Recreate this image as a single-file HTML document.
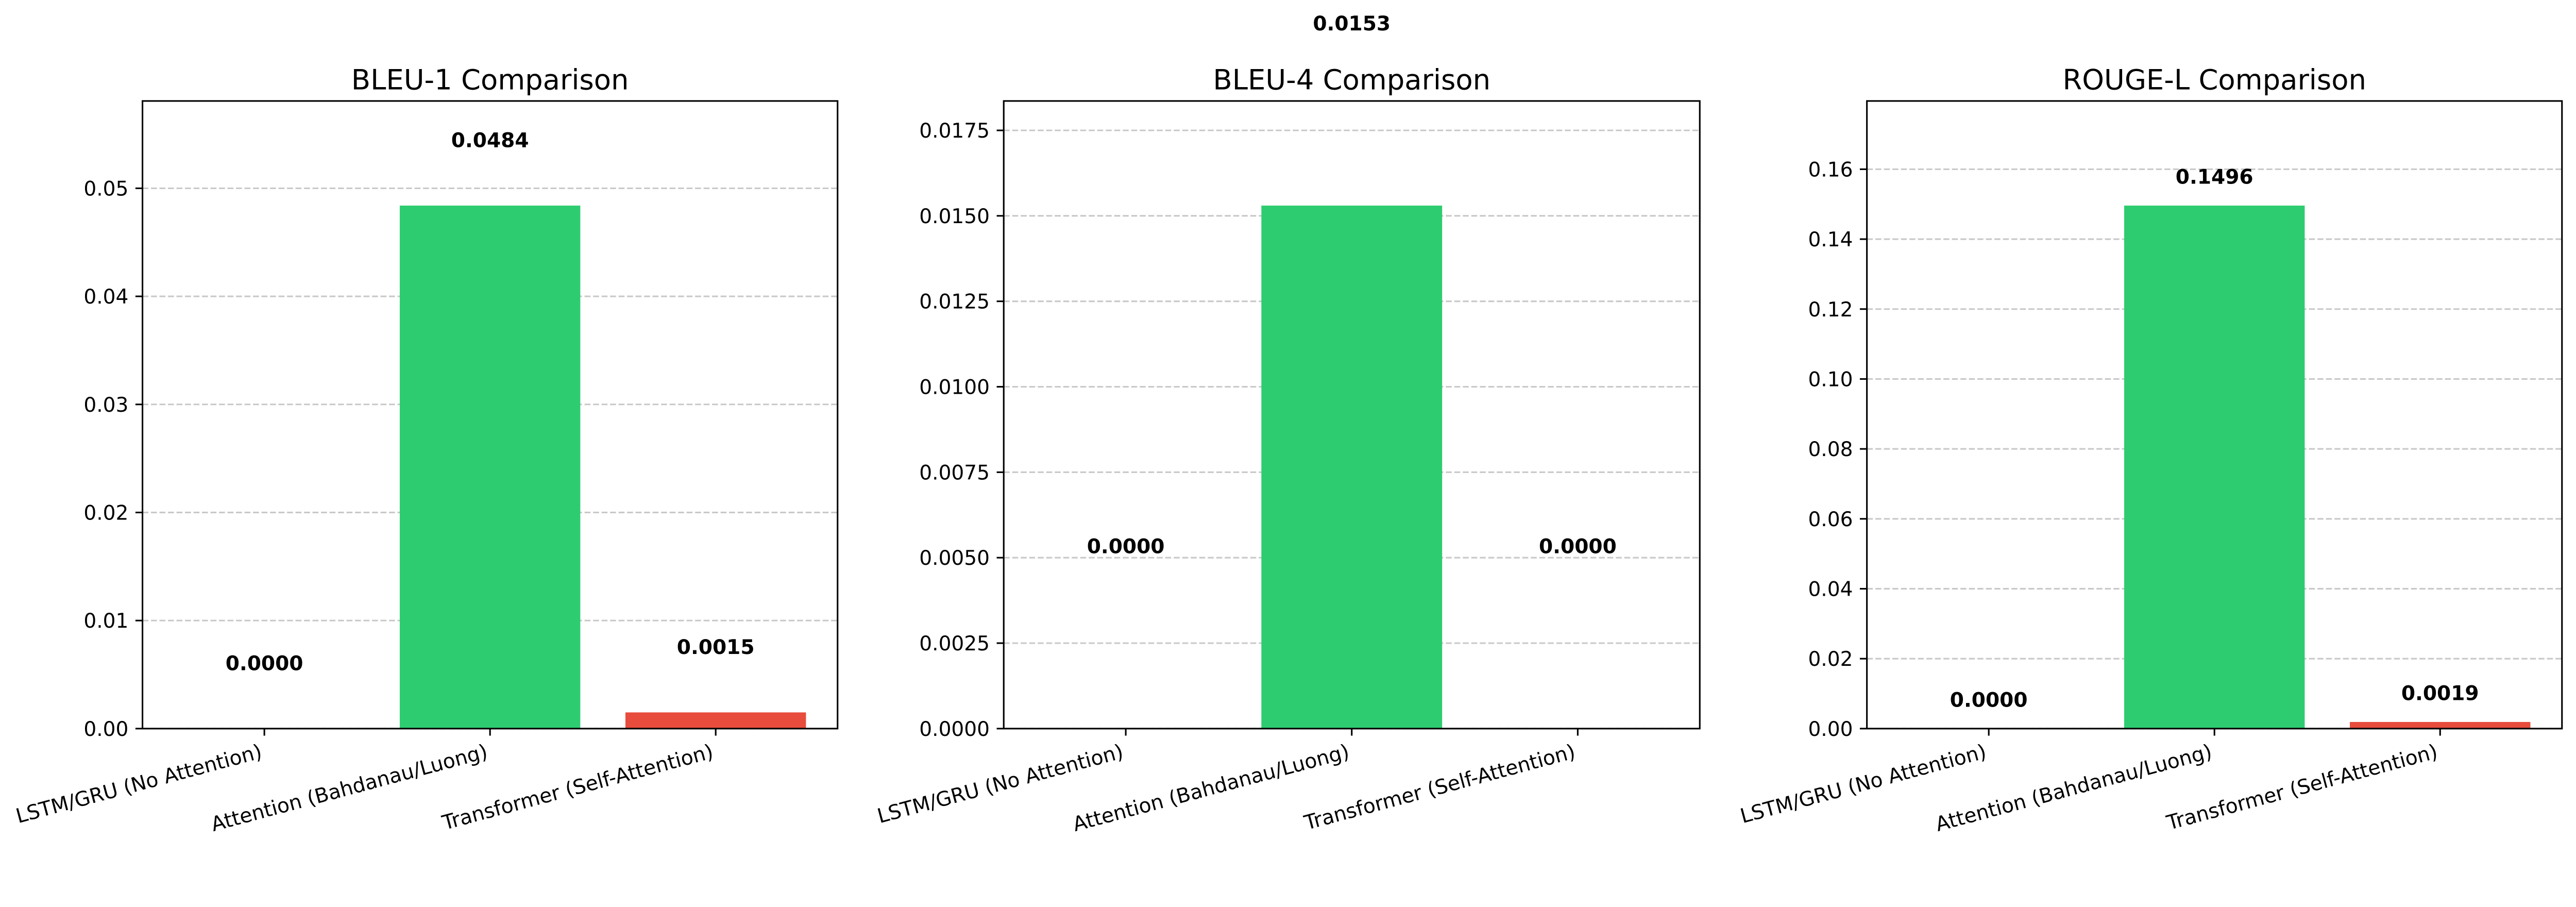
<!DOCTYPE html>
<html><head><meta charset="utf-8"><title>Model Comparison</title>
<style>html,body{margin:0;padding:0;background:#fff;overflow:hidden}svg{display:block;width:100vw;height:33.0021vw}text{font-family:"DejaVu Sans","Liberation Sans",sans-serif}</style>
</head><body>
<svg id="fig" viewBox="0 0 5333 1760" preserveAspectRatio="xMinYMin meet" xmlns="http://www.w3.org/2000/svg"></svg>
<script>
const categories = ["LSTM/GRU (No Attention)", "Attention (Bahdanau/Luong)", "Transformer (Self-Attention)"];
const bleu1Values = [0.0000, 0.0484, 0.0015];
const bleu4Values = [0.0000, 0.0153, 0.0000];
const rougeLValues = [0.0000, 0.1496, 0.0019];
const bleu1Ticks = [0, 0.01, 0.02, 0.03, 0.04, 0.05];
const bleu4Ticks = [0, 0.0025, 0.005, 0.0075, 0.01, 0.0125, 0.015, 0.0175];
const rougeLTicks = [0, 0.02, 0.04, 0.06, 0.08, 0.10, 0.12, 0.14, 0.16];
const titles = ["BLEU-1 Comparison", "BLEU-4 Comparison", "ROUGE-L Comparison"];

const NS = "http://www.w3.org/2000/svg";
const svg = document.getElementById("fig");
const colors = ["#3498db", "#2ecc71", "#e74c3c"];
function el(tag, attrs, parent) {
  const e = document.createElementNS(NS, tag);
  for (const k in attrs) e.setAttribute(k, attrs[k]);
  (parent || svg).appendChild(e);
  return e;
}
const panels = [
  {left: 295, right: 1734, values: bleu1Values, ticks: bleu1Ticks, dec: 2, slug: "bleu1"},
  {left: 2078, right: 3519, values: bleu4Values, ticks: bleu4Ticks, dec: 4, slug: "bleu4"},
  {left: 3865, right: 5304, values: rougeLValues, ticks: rougeLTicks, dec: 2, slug: "rougel"}
];
const TOP = 209, BOTTOM = 1508;
panels.forEach((p, pi) => {
  const g = el("g", {});
  
  
  const ymax = Math.max(...p.values) * 1.2;
  const yS = v => BOTTOM - v / ymax * (BOTTOM - TOP);
  const x0 = -0.54, x1 = 2.54;
  const xS = v => p.left + (v - x0) / (x1 - x0) * (p.right - p.left);
  const unit = (p.right - p.left) / (x1 - x0);
  p.ticks.forEach(t => {
    const y = yS(t);
    const gl = el("line", {x1: p.left, x2: p.right, y1: y, y2: y, stroke: "#b0b0b0", "stroke-opacity": 0.7, "stroke-width": 3.3, "stroke-dasharray": "12.3 5.3"}, g);
    
    
    const tk = el("line", {x1: p.left - 14.6, x2: p.left, y1: y, y2: y, stroke: "#000", "stroke-width": 3.3}, g);
    
    
    const tl = el("text", {x: p.left - 29, y: y + 15, "text-anchor": "end", "font-size": 41.7, fill: "#000"}, g);
    
    
    tl.textContent = t.toFixed(p.dec);
  });
  p.values.forEach((v, i) => {
    const cx = xS(i), w = 0.8 * unit;
    const b = el("rect", {x: cx - w / 2, y: yS(v), width: w, height: Math.max(0, BOTTOM - yS(v)), fill: colors[i]}, g);
    
    
  });
  const sp = el("rect", {x: p.left, y: TOP, width: p.right - p.left, height: BOTTOM - TOP, fill: "none", stroke: "#000", "stroke-width": 3.3}, g);
  
  
  p.values.forEach((v, i) => {
    const cx = xS(i);
    const vl = el("text", {x: cx, y: yS(v + 0.005) - 9, "text-anchor": "middle", "font-size": 41.7, "font-weight": "bold", fill: "#000"}, g);
    
    
    vl.textContent = v.toFixed(4);
    const tk = el("line", {x1: cx, x2: cx, y1: BOTTOM, y2: BOTTOM + 14.6, stroke: "#000", "stroke-width": 3.3}, g);
    
    
    const ax = cx - 2.6, ay = 1568;
    const xl = el("text", {x: ax, y: ay, "text-anchor": "end", "font-size": 41.7, fill: "#000", transform: "rotate(-15 " + ax + " " + ay + ")"}, g);
    
    
    xl.textContent = categories[i];
  });
  const tt = el("text", {x: (p.left + p.right) / 2, y: 185, "text-anchor": "middle", "font-size": 58, fill: "#000"}, g);
  
  
  tt.textContent = titles[pi];
});
</script>
</body></html>
